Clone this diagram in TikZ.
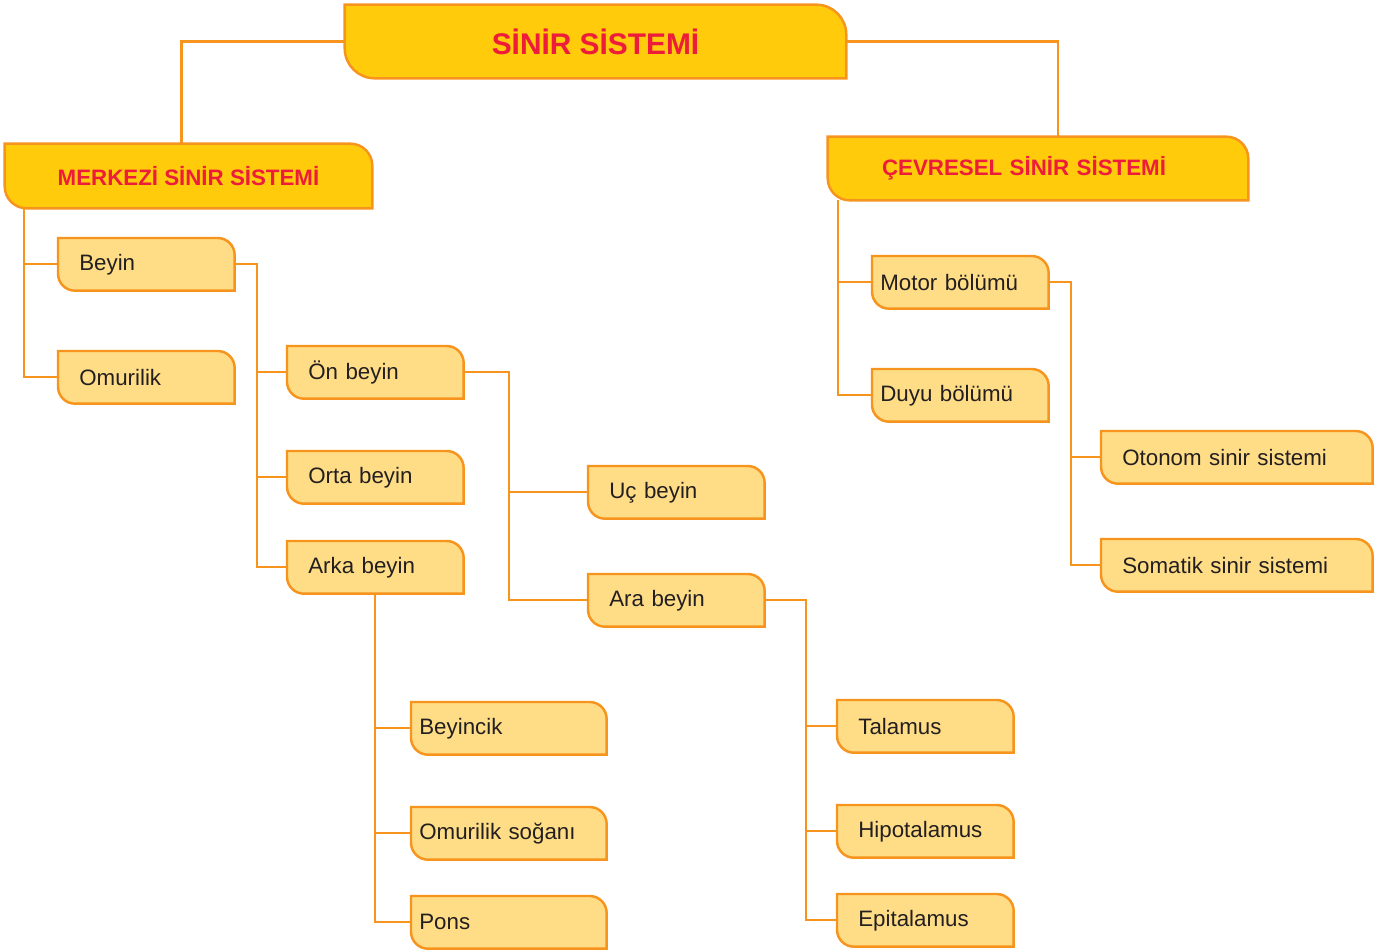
\documentclass[tikz,border=0pt]{standalone}
\usepackage{fontspec}
\setmainfont{Liberation Sans}
\usepackage{tikz}
\usetikzlibrary{backgrounds}
\definecolor{hgold}{HTML}{FFCB0B}
\definecolor{lgold}{HTML}{FFDD86}
\definecolor{edge}{HTML}{F7941D}
\definecolor{hred}{HTML}{ED1C3A}
\definecolor{ink}{HTML}{231F20}

\tikzset{
  head/.style={inner sep=0pt, text=hred, font=\bfseries\fontsize{12.7}{15}\selectfont},
  leaf/.style={anchor=north west, minimum height=1.04cm, inner ysep=0pt, inner xsep=0.42cm,
    text width=2.68cm, align=left, text=ink, font=\fontsize{12.7}{15}\selectfont},
  leafnear/.style={leaf, inner xsep=0.16cm, text width=#1},
  link/.style={draw=edge, line width=1.2pt}
}

\begin{document}
\begin{tikzpicture}[x=0.02cm, y=-0.02cm]
\useasboundingbox (0,0) rectangle (1385,952);

\node [head, minimum width=10.02cm, minimum height=1.46cm, font=\bfseries\fontsize{17}{20}\selectfont] (sinir) at (595.5,41.5) {SİNİR SİSTEMİ};
\node [head, minimum width=7.34cm, minimum height=1.28cm] (merkezi) at (188.5,176) {MERKEZİ SİNİR SİSTEMİ};
\node [head, minimum height=1.26cm, inner xsep=1.08cm, text width=6.24cm, align=left] (cevresel) at (1038,168.5) {ÇEVRESEL SİNİR SİSTEMİ};

\node [leaf] (beyin) at (58,238) {Beyin};
\node [leaf] (omurilik) at (58,351) {Omurilik};
\node [leaf] (onbeyin) at (287,346) {Ön beyin};
\node [leaf] (orta) at (287,451) {Orta beyin};
\node [leaf] (arka) at (287,541) {Arka beyin};
\node [leaf] (uc) at (588,466) {Uç beyin};
\node [leaf] (ara) at (588,574) {Ara beyin};
\node [leafnear=3.58cm] (beyincik) at (411,702) {Beyincik};
\node [leafnear=3.58cm] (sogan) at (411,807) {Omurilik soğanı};
\node [leafnear=3.58cm] (pons) at (411,896) {Pons};
\node [leaf] (talamus) at (837,700) {Talamus};
\node [leaf] (hipo) at (837,805) {Hipotalamus};
\node [leaf] (epi) at (837,894) {Epitalamus};
\node [leafnear=3.2cm] (motor) at (872,256) {Motor bölümü};
\node [leafnear=3.2cm] (duyu) at (872,369) {Duyu bölümü};
\node [leaf, text width=4.58cm] (otonom) at (1101,431) {Otonom sinir sistemi};
\node [leaf, text width=4.58cm] (somatik) at (1101,539) {Somatik sinir sistemi};

\begin{scope}[on background layer]
\foreach \n/\r/\c in {sinir/0.6cm/hgold, merkezi/0.44cm/hgold, cevresel/0.44cm/hgold,
  beyin/0.34cm/lgold, omurilik/0.34cm/lgold, onbeyin/0.34cm/lgold, orta/0.34cm/lgold,
  arka/0.34cm/lgold, uc/0.34cm/lgold, ara/0.34cm/lgold, beyincik/0.34cm/lgold,
  sogan/0.34cm/lgold, pons/0.34cm/lgold, talamus/0.34cm/lgold, hipo/0.34cm/lgold,
  epi/0.34cm/lgold, motor/0.34cm/lgold, duyu/0.34cm/lgold, otonom/0.34cm/lgold,
  somatik/0.34cm/lgold}
  \draw [draw=edge, line width=1.4pt, fill=\c] (\n.north west) -- ([xshift=-\r]\n.north east)
    arc [start angle=90, end angle=0, radius=\r] -- (\n.south east)
    -- ([xshift=\r]\n.south west) arc [start angle=270, end angle=180, radius=\r] -- cycle;
\end{scope}

% top level
\draw [link] (sinir.west) -| ([xshift=-0.14cm]merkezi.north);
\draw [link] (sinir.east) -| ([xshift=0.4cm]cevresel.north);

% merkezi sinir sistemi
\coordinate (mspine) at ([xshift=0.38cm]merkezi.south west);
\draw [link] (mspine) |- (beyin.west);
\draw [link] (mspine) |- (omurilik.west);
\draw [link] (beyin.east) -- ++(0.44cm,0) coordinate (bspine) |- (arka.west);
\draw [link] (bspine) |- (onbeyin.west);
\draw [link] (bspine) |- (orta.west);
\draw [link] (onbeyin.east) -- ++(0.9cm,0) coordinate (ospine) |- (ara.west);
\draw [link] (ospine) |- (uc.west);
\draw [link] (arka.south) |- (pons.west);
\draw [link] (arka.south) |- (beyincik.west);
\draw [link] (arka.south) |- (sogan.west);
\draw [link] (ara.east) -- ++(0.82cm,0) coordinate (aspine) |- (epi.west);
\draw [link] (aspine) |- (talamus.west);
\draw [link] (aspine) |- (hipo.west);

% cevresel sinir sistemi
\coordinate (cspine) at ([xshift=0.2cm]cevresel.south west);
\draw [link] (cspine) |- (motor.west);
\draw [link] (cspine) |- (duyu.west);
\draw [link] (motor.east) -- ++(0.44cm,0) coordinate (tspine) |- (somatik.west);
\draw [link] (tspine) |- (otonom.west);
\end{tikzpicture}
\end{document}
